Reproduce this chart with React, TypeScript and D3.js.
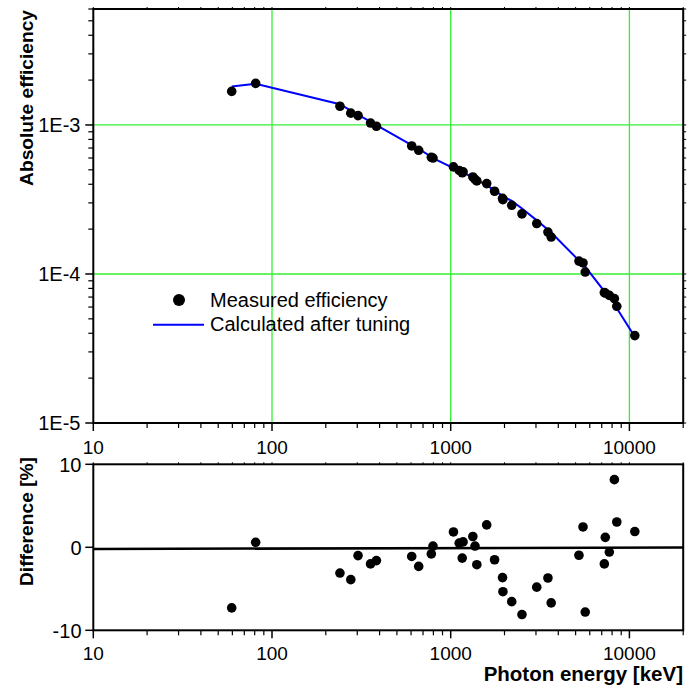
import React from "react";
import * as d3 from "d3";

const energies = [59.5, 81, 240, 276, 303, 356, 384, 605, 662, 779, 796, 1036, 1116, 1160, 1173, 1330, 1368, 1400, 1590, 1760, 1950, 1960, 2195, 2505, 3030, 3500, 3650, 5220, 5500, 5660, 7240, 7330, 7720, 8240, 8500, 10720];
const measured = [1.68e-3, 1.90e-3, 1.335e-3, 1.20e-3, 1.156e-3, 1.03e-3, 0.98e-3, 0.723e-3, 0.676e-3, 0.607e-3, 0.600e-3, 0.523e-3, 0.495e-3, 0.478e-3, 0.485e-3, 0.448e-3, 0.432e-3, 0.421e-3, 0.404e-3, 0.359e-3, 0.322e-3, 0.315e-3, 0.289e-3, 0.253e-3, 0.218e-3, 0.191e-3, 0.177e-3, 0.122e-3, 0.1186e-3, 0.103e-3, 0.0750e-3, 0.0745e-3, 0.0719e-3, 0.0684e-3, 0.0607e-3, 0.0386e-3];
const calculated = [1.812e-3, 1.889e-3, 1.378e-3, 1.249e-3, 1.168e-3, 1.051e-3, 0.996e-3, 0.731e-3, 0.692e-3, 0.612e-3, 0.599e-3, 0.514e-3, 0.4925e-3, 0.486e-3, 0.482e-3, 0.442e-3, 0.433e-3, 0.428e-3, 0.393e-3, 0.364e-3, 0.334e-3, 0.333e-3, 0.309e-3, 0.275e-3, 0.229e-3, 0.198e-3, 0.190e-3, 0.123e-3, 0.1158e-3, 0.112e-3, 0.0765e-3, 0.0736e-3, 0.0723e-3, 0.0633e-3, 0.0589e-3, 0.0379e-3];
const difference = [-7.3, 0.6, -3.1, -3.9, -1.0, -2.0, -1.6, -1.1, -2.3, -0.8, 0.15, 1.85, 0.5, -1.3, 0.65, 1.3, 0.15, -2.1, 2.7, -1.5, -3.65, -5.35, -6.55, -8.1, -4.8, -3.7, -6.7, -0.96, 2.45, -7.8, -2.0, 1.2, -0.57, 8.15, 3.05, 1.9];
const fitLineEnergy = [10, 20000];
const fitLineDiff = [-0.2, -0.03];

const xTickValues = [10, 100, 1000, 10000];
const xTickLabels = ["10", "100", "1000", "10000"];
const yTopTickValues = [1e-5, 1e-4, 1e-3];
const yTopTickLabels = ["1E-5", "1E-4", "1E-3"];
const yBotTickValues = [-10, 0, 10];
const yBotTickLabels = ["-10", "0", "10"];
const legendLabels = ["Measured efficiency", "Calculated after tuning"];

const L = 93.3, R = 683.2;
const T1 = 9, B1 = 423;
const T2 = 464.3, B2 = 630.3;
const FONT = "'Liberation Sans', Arial, sans-serif";
const GRID = "#33f033";
const FS = 20;
const FSX = 19;

export default function App() {
  const x = d3.scaleLog().domain([10, 20000]).range([L, R]);
  const y1 = d3.scaleLog().domain([1e-5, 6e-3]).range([B1, T1]);
  const y2 = d3.scaleLinear().domain([-10, 10]).range([B2, T2]);

  const xMinor: number[] = [];
  for (const dec of [10, 100, 1000, 10000]) {
    for (let m = 2; m <= 9; m++) xMinor.push(m * dec);
  }
  const xMinorIn = xMinor.filter((v) => v <= 20000);
  const yMinor: number[] = [];
  for (const dec of [1e-5, 1e-4, 1e-3]) {
    for (let m = 2; m <= 9; m++) {
      const v = m * dec;
      if (v <= 6.01e-3) yMinor.push(v);
    }
  }

  const line = d3
    .line<number>()
    .x((_, i) => x(energies[i]))
    .y((d) => y1(d));

  return (
    <svg
      width={692}
      height={691}
      style={{ position: "absolute", left: 0, top: 0, background: "#fff" }}
      fontFamily={FONT}
    >
      <rect x={0} y={0} width={692} height={691} fill="#fff" />
      {/* ===== Top panel ===== */}
      {xTickValues.slice(1).map((v) => (
        <line key={"gx" + v} x1={x(v)} x2={x(v)} y1={T1} y2={B1} stroke={GRID} strokeWidth={1.3} />
      ))}
      {yTopTickValues.slice(1).map((v) => (
        <line key={"gy" + v} x1={L} x2={R} y1={y1(v)} y2={y1(v)} stroke={GRID} strokeWidth={1.3} />
      ))}
      <path d={line(calculated) || ""} fill="none" stroke="#0000ff" strokeWidth={2} />
      {measured.map((v, i) => (
        <circle key={"m" + i} cx={x(energies[i])} cy={y1(v)} r={4.8} fill="#000" />
      ))}
      <rect x={L} y={T1} width={R - L} height={B1 - T1} fill="none" stroke="#000" strokeWidth={2} />
      {yTopTickValues.map((v) => (
        <line key={"lt" + v} x1={L - 8} x2={L} y1={y1(v)} y2={y1(v)} stroke="#000" strokeWidth={1.5} />
      ))}
      {yMinor.map((v) => (
        <line key={"lm" + v} x1={L - 5} x2={L} y1={y1(v)} y2={y1(v)} stroke="#000" strokeWidth={1.2} />
      ))}
      {[...yTopTickValues, ...yMinor].map((v) => (
        <line key={"rt" + v} x1={R} x2={R + 3} y1={y1(v)} y2={y1(v)} stroke="#000" strokeWidth={1} />
      ))}
      {xTickValues.map((v) => (
        <line key={"bt" + v} x1={x(v)} x2={x(v)} y1={B1} y2={B1 + 8} stroke="#000" strokeWidth={1.5} />
      ))}
      {xMinorIn.map((v) => (
        <line key={"bm" + v} x1={x(v)} x2={x(v)} y1={B1} y2={B1 + 5} stroke="#000" strokeWidth={1.2} />
      ))}
      {[...xTickValues, ...xMinorIn].map((v) => (
        <line key={"tt" + v} x1={x(v)} x2={x(v)} y1={T1 - 2} y2={T1} stroke="#000" strokeWidth={1} />
      ))}
      {yTopTickValues.map((v, i) => (
        <text key={"yl" + v} x={80.5} y={y1(v)} dy="0.36em" textAnchor="end" fontSize={FS}>
          {yTopTickLabels[i]}
        </text>
      ))}
      {xTickValues.map((v, i) => (
        <text key={"xl" + v} x={x(v)} y={453.5} textAnchor="middle" fontSize={FSX}>
          {xTickLabels[i]}
        </text>
      ))}
      <text transform={`translate(32.5,10) rotate(-90)`} textAnchor="end" fontSize={19.2} fontWeight="bold">
        Absolute efficiency
      </text>
      {/* legend */}
      <circle cx={179} cy={300} r={6} fill="#000" />
      <text x={210} y={307} fontSize={FS}>{legendLabels[0]}</text>
      <line x1={153} x2={204} y1={324.7} y2={324.7} stroke="#0000ff" strokeWidth={2} />
      <text x={210} y={331} fontSize={FS}>{legendLabels[1]}</text>

      {/* ===== Bottom panel ===== */}
      <line
        x1={x(fitLineEnergy[0])}
        x2={x(fitLineEnergy[1])}
        y1={y2(fitLineDiff[0])}
        y2={y2(fitLineDiff[1])}
        stroke="#000"
        strokeWidth={2.6}
      />
      {difference.map((v, i) => (
        <circle key={"d" + i} cx={x(energies[i])} cy={y2(v)} r={4.8} fill="#000" />
      ))}
      <rect x={L} y={T2} width={R - L} height={B2 - T2} fill="none" stroke="#000" strokeWidth={2} />
      {yBotTickValues.map((v) => (
        <line key={"blt" + v} x1={L - 8} x2={L} y1={y2(v)} y2={y2(v)} stroke="#000" strokeWidth={1.5} />
      ))}
      {xTickValues.map((v) => (
        <line key={"bbt" + v} x1={x(v)} x2={x(v)} y1={B2} y2={B2 + 8} stroke="#000" strokeWidth={1.5} />
      ))}
      {xMinorIn.map((v) => (
        <line key={"bbm" + v} x1={x(v)} x2={x(v)} y1={B2} y2={B2 + 5} stroke="#000" strokeWidth={1.2} />
      ))}
      {[...xTickValues, ...xMinorIn].map((v) => (
        <line key={"btt" + v} x1={x(v)} x2={x(v)} y1={T2 - 2} y2={T2} stroke="#000" strokeWidth={1} />
      ))}
      {yBotTickValues.map((v, i) => (
        <text key={"byl" + v} x={81.5} y={y2(v)} dy="0.36em" textAnchor="end" fontSize={FS}>
          {yBotTickLabels[i]}
        </text>
      ))}
      {xTickValues.map((v, i) => (
        <text key={"bxl" + v} x={x(v)} y={659.5} textAnchor="middle" fontSize={FSX}>
          {xTickLabels[i]}
        </text>
      ))}
      <text transform={`translate(32.5,457) rotate(-90)`} textAnchor="end" fontSize={19.2} fontWeight="bold">
        Difference [%]
      </text>
      <text x={683} y={681} textAnchor="end" fontSize={20.5} fontWeight="bold">
        Photon energy [keV]
      </text>
    </svg>
  );
}
